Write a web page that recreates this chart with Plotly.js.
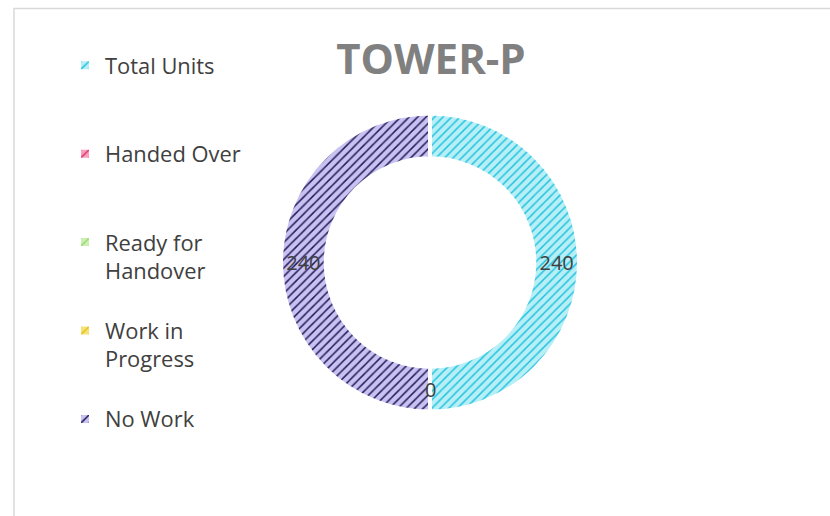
<!DOCTYPE html>
<html>
<head>
<meta charset="utf-8">
<script src="https://cdn.plot.ly/plotly-3.0.1.min.js"></script>
<style>html,body{margin:0;padding:0;background:#fff;}#chart{width:830px;height:516px;}</style>
</head>
<body>
<div id="chart"></div>
<script>
const categories = ["Total Units", "Handed Over", "Ready for<br>Handover", "Work in<br>Progress", "No Work"];
const values = [240, 0, 0, 0, 240];
const bgColors = ["#b8eff7", "#f7a1be", "#cdefb4", "#f5e27a", "#c8c2f2"];
const fgColors = ["#22c3de", "#e5306c", "#98dc74", "#e3c21a", "#231a58"];
const chartTitle = "TOWER-P";

const W = 830, H = 516;
const cxPx = 430, cyPx = 262.5, rPx = 149, hole = 0.7;

// pad legend labels to 3 lines each so entries are evenly spaced
const legendLabels = categories.map(c => {
  const n = c.split("<br>").length;
  let s = c;
  for (let i = n; i < 3; i++) s += "<br>&nbsp;";
  return s;
});

const domainX = [(cxPx - rPx) / W, (cxPx + rPx) / W];
const domainY = [(H - cyPx - rPx) / H, (H - cyPx + rPx) / H];

// label for zero-valued slices (Plotly hides text of empty slices)
const total = values.reduce((a, b) => a + b, 0);
const annotations = [];
let cum = 0;
let zeroDone = false;
values.forEach((v, i) => {
  if (v === 0 && !zeroDone) {
    const theta = 2 * Math.PI * (cum / total);
    const rMid = rPx * (1 + hole) / 2;
    annotations.push({
      xref: "paper", yref: "paper",
      x: (cxPx + Math.sin(theta) * rMid) / W,
      y: (H - cyPx + Math.cos(theta) * rMid) / H,
      text: String(v), showarrow: false,
      font: {family: "Open Sans, sans-serif", size: 20, color: "#404040"},
      xanchor: "center", yanchor: "middle"
    });
    zeroDone = true;
  }
  cum += v;
});

const trace = {
  type: "pie",
  labels: legendLabels,
  values: values,
  sort: false,
  direction: "clockwise",
  rotation: 0,
  hole: hole,
  domain: {x: domainX, y: domainY},
  textinfo: "value",
  textposition: "inside",
  insidetextorientation: "horizontal",
  textfont: {family: "Open Sans, sans-serif", size: 20, color: "#404040"},
  marker: {
    colors: bgColors,
    line: {color: "#ffffff", width: 4},
    pattern: {shape: "/", fgcolor: fgColors, fgopacity: 1, size: 6, solidity: 0.25, fillmode: "overlay"}
  },
  hoverinfo: "label+value"
};

const layout = {
  width: W, height: H,
  margin: {l: 0, r: 0, t: 0, b: 0},
  paper_bgcolor: "#ffffff",
  title: {
    text: "<b>" + chartTitle + "</b>",
    font: {family: "Open Sans, sans-serif", size: 42, color: "#808080"},
    x: 431 / W, xanchor: "center",
    y: 1 - 59 / H, yanchor: "middle", yref: "container"
  },
  showlegend: true,
  legend: {
    x: 65 / W, xanchor: "left",
    y: 1 - 44.5 / H, yanchor: "top",
    font: {family: "Open Sans, sans-serif", size: 21.9, color: "#404040"},
    valign: "top",
    bgcolor: "rgba(0,0,0,0)",
    traceorder: "normal"
  },
  annotations: annotations,
  shapes: [{
    type: "rect", xref: "paper", yref: "paper",
    x0: 14 / W, x1: 1.05, y0: -0.05, y1: 1 - 8.5 / H,
    line: {color: "#d9d9d9", width: 1.5}, fillcolor: "rgba(0,0,0,0)"
  }]
};

Plotly.newPlot("chart", [trace], layout, {displayModeBar: false, staticPlot: true});
</script>
</body>
</html>
